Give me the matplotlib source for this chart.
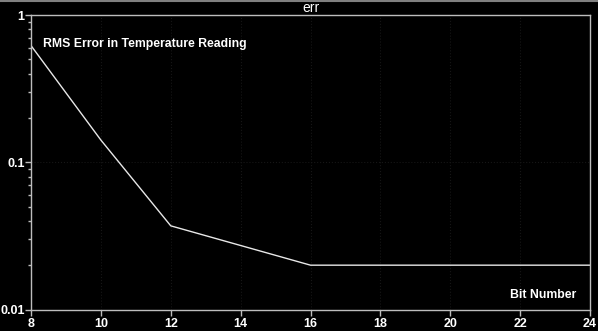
import matplotlib
matplotlib.use("Agg")
import matplotlib.pyplot as plt
from matplotlib.ticker import LogLocator, FixedLocator, FixedFormatter

# datos
bits = [8, 10, 12, 16, 24]
rms_err = [0.62, 0.1415, 0.037, 0.020, 0.020]

xticks = [8, 10, 12, 14, 16, 18, 20, 22, 24]
yticks = [0.01, 0.1, 1]
ylabels = ["0.01", "0.1", "1"]

plt.rcParams['font.family'] = ['Liberation Sans', 'DejaVu Sans']

fig = plt.figure(figsize=(5.98, 3.31), dpi=100, facecolor="black")
ax = fig.add_axes([31 / 598, 1 - 309.5 / 331, 559 / 598, (309.5 - 15) / 331])
ax.set_facecolor("black")

ax.plot(bits, rms_err, color="#e8e8e8", lw=1.0)

ax.set_yscale("log")
ax.set_xlim(8, 24)
ax.set_ylim(0.01, 1)

ax.xaxis.set_major_locator(FixedLocator(xticks))
ax.yaxis.set_major_locator(FixedLocator(yticks))
ax.yaxis.set_major_formatter(FixedFormatter(ylabels))
ax.yaxis.set_minor_locator(LogLocator(base=10, subs=range(2, 10)))
ax.yaxis.set_minor_formatter(plt.NullFormatter())

for s in ax.spines.values():
    s.set_color("#bdbdbd")
    s.set_linewidth(1.0)

ax.tick_params(axis="both", which="major", colors="#bdbdbd", length=4, width=1,
               labelcolor="white", labelsize=9)
ax.tick_params(axis="y", which="minor", colors="#bdbdbd", length=2.5, width=1)
ax.tick_params(axis="x", pad=2)
ax.tick_params(axis="y", pad=0.5)
for lbl in ax.get_xticklabels() + ax.get_yticklabels():
    lbl.set_fontweight("bold")

# rejilla tenue
ax.grid(True, which="major", color="#161616", lw=0.8, ls=":")

ax.text(0.022, 0.9, "RMS Error in Temperature Reading", transform=ax.transAxes,
        color="white", fontsize=8.8, fontweight="bold", va="center", ha="left")
ax.text(0.976, 0.05, "Bit Number", transform=ax.transAxes,
        color="white", fontsize=8.8, fontweight="bold", va="center", ha="right")

fig.text(302 / 598, 1 - 8 / 331, "err", color="white", fontsize=10,
         va="center", ha="left")
fig.add_artist(plt.Line2D([0, 1], [0.998, 0.998], color="#808080", lw=1.5,
                          transform=fig.transFigure))

fig.savefig("out.png", dpi=100, facecolor="black")
